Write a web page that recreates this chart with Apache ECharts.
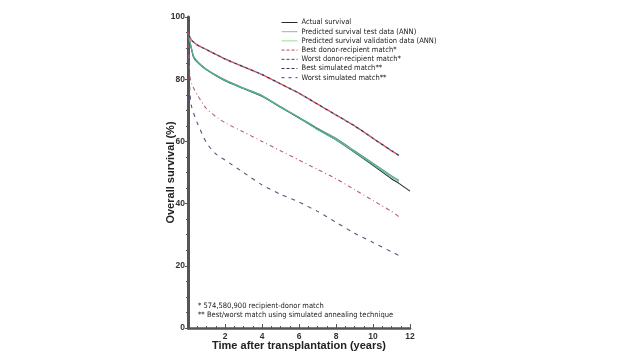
<!DOCTYPE html>
<html>
<head>
<meta charset="utf-8">
<script src="https://cdn.jsdelivr.net/npm/echarts@6/dist/echarts.min.js"></script>
<style>html,body{margin:0;padding:0;background:#fff;}#c{width:640px;height:360px;}</style>
</head>
<body>
<div id="c"></div>
<script>
var seriesNames = [
  'Actual survival',
  'Predicted survival test data (ANN)',
  'Predicted survival validation data (ANN)',
  'Best donor-recipient match*',
  'Worst donor-recipient match*',
  'Best simulated match**',
  'Worst simulated match**'
];
var tActual = [0, 0.3, 0.5, 1, 2, 3, 4, 5, 6, 7, 8, 9, 10, 11, 11.4, 12];
var vActual = [95, 87, 85.5, 83, 79.5, 77, 74.5, 71, 67.5, 64, 60.5, 56.5, 52.3, 48, 46.5, 44];
var tPred = [0, 0.3, 0.5, 1, 2, 3, 4, 5, 6, 7, 8, 9, 10, 11, 11.4];
var vTest = [95, 87.5, 85.8, 83.2, 79.8, 77.2, 74.8, 71.2, 67.8, 64.2, 61, 57, 53, 49, 47.5];
var vValid = [95, 87.2, 85.6, 83, 79.6, 77, 74.6, 71, 67.6, 63.8, 60.5, 56.6, 52.6, 48.6, 47.2];
var tMatch = [0, 0.1, 0.2, 0.5, 1, 1.5, 2, 3, 4, 5, 6, 7, 8, 9, 10, 11, 11.4];
var vBestDR = [95, 93.5, 92.5, 91, 89.5, 88, 86.5, 84, 81.5, 78.5, 75.5, 72, 68.5, 65, 61, 57, 55.5];
var vBestSim = [95, 93.5, 92.5, 91, 89.5, 88, 86.5, 84, 81.5, 78.5, 75.5, 72, 68.5, 65, 61, 57, 55.5];
var vWorstDR = [95, 81, 78.5, 75, 70.5, 68, 66, 63, 60, 57, 54, 51, 48, 44.5, 41, 37.5, 35.8];
var vWorstSim = [95, 76, 71, 66, 59.5, 56, 54, 50, 46, 43, 40.5, 37.5, 34, 30.5, 27.5, 24.5, 23.3];
var xTicks = [0, 2, 4, 6, 8, 10, 12];
var yTicks = [0, 20, 40, 60, 80, 100];
var footnotes = ['* 574,580,900 recipient-donor match', '** Best/worst match using simulated annealing technique'];

function pairs(t, v) { return t.map(function (x, i) { return [x, v[i]]; }); }

var FONT_N = "'DejaVu Sans Condensed', Roboto, sans-serif";
var colors = ['#2a2a2a', '#5f9690', '#4dbb8a', '#e0505f', '#b8606e', '#3c3c60', '#55557a'];
var legendColors = ['#2a2a2a', '#aaaaaa', '#8fe08f', '#c04050', '#444466', '#333355', '#444466'];
var styles = [
  {type: 'solid', width: 1.1},
  {type: 'solid', width: 1.1},
  {type: 'solid', width: 1.1},
  {type: [3, 3], width: 1.5},
  {type: [4, 3, 1, 3], width: 1.1},
  {type: [3, 3], width: 1.5, dashOffset: 3},
  {type: [4, 5], width: 1.1}
];
var datas = [pairs(tActual, vActual), pairs(tPred, vTest), pairs(tPred, vValid),
  pairs(tMatch, vBestDR), pairs(tMatch, vWorstDR), pairs(tMatch, vBestSim), pairs(tMatch, vWorstSim)];

var chart = echarts.init(document.getElementById('c'), null, {renderer: 'canvas'});
chart.setOption({
  animation: false,
  backgroundColor: '#fff',
  grid: {left: 188, right: 230, top: 17, bottom: 32, containLabel: false},
  legend: {
    orient: 'vertical', left: 276, top: 13, itemGap: 0.2, itemWidth: 16, itemHeight: 9,
    itemStyle: {opacity: 0},
    textStyle: {fontFamily: FONT_N, fontSize: 7.5, lineHeight: 9, color: '#222', padding: [0, 0, 0, -1]},
    data: seriesNames.map(function (n, i) {
      return {name: n, lineStyle: {color: legendColors[i], width: 1, type: i < 3 ? 'solid' : (i === 6 ? [3, 4] : [3, 2]), dashOffset: 0}};
    })
  },
  xAxis: {
    type: 'value', min: 0, max: 12, interval: 2,
    name: 'Time after transplantation (years)', nameLocation: 'middle', nameGap: 12, nameMoveOverlap: false,
    nameTextStyle: {fontFamily: 'Liberation Sans', fontWeight: 'bold', fontSize: 11, color: '#222'},
    axisLine: {lineStyle: {color: '#555', width: 2.5}},
    axisTick: {inside: true, length: 4, lineStyle: {color: '#555'}},
    minorTick: {show: true, splitNumber: 4, length: 2, lineStyle: {color: '#555'}},
    splitLine: {show: false},
    axisLabel: {fontFamily: 'Liberation Sans', fontSize: 8.5, fontWeight: 'bold', color: '#333', margin: 4,
      formatter: function (v) { return v === 0 ? '' : (xTicks.indexOf(v) >= 0 ? String(v) : ''); }}
  },
  yAxis: {
    type: 'value', min: 0, max: 100, interval: 20,
    name: 'Overall survival (%)', nameLocation: 'middle', nameGap: 12, nameRotate: 90, nameMoveOverlap: false,
    nameTextStyle: {fontFamily: 'Liberation Sans', fontWeight: 'bold', fontSize: 11, color: '#222'},
    axisLine: {show: true, lineStyle: {color: '#555', width: 3}},
    axisTick: {show: true, inside: false, length: 3, lineStyle: {color: '#555'}},
    minorTick: {show: true, splitNumber: 4, length: 2, lineStyle: {color: '#555'}},
    splitLine: {show: false},
    axisLabel: {fontFamily: 'Liberation Sans', fontSize: 8.5, fontWeight: 'bold', color: '#333', margin: 3,
      formatter: function (v) { return yTicks.indexOf(v) >= 0 ? String(v) : ''; }}
  },
  graphic: [
    {type: 'text', left: 198, top: 302, style: {text: footnotes[0], font: '7.5px ' + FONT_N, fill: '#222'}},
    {type: 'text', left: 198, top: 311, style: {text: footnotes[1], font: '7.5px ' + FONT_N, fill: '#222'}}
  ],
  series: seriesNames.map(function (n, i) {
    return {
      name: n, type: 'line', data: datas[i], showSymbol: false, symbol: 'none', smooth: 0.2,
      color: colors[i],
      lineStyle: {color: colors[i], width: styles[i].width, type: styles[i].type, dashOffset: styles[i].dashOffset || 0},
      z: i
    };
  })
});
</script>
</body>
</html>
